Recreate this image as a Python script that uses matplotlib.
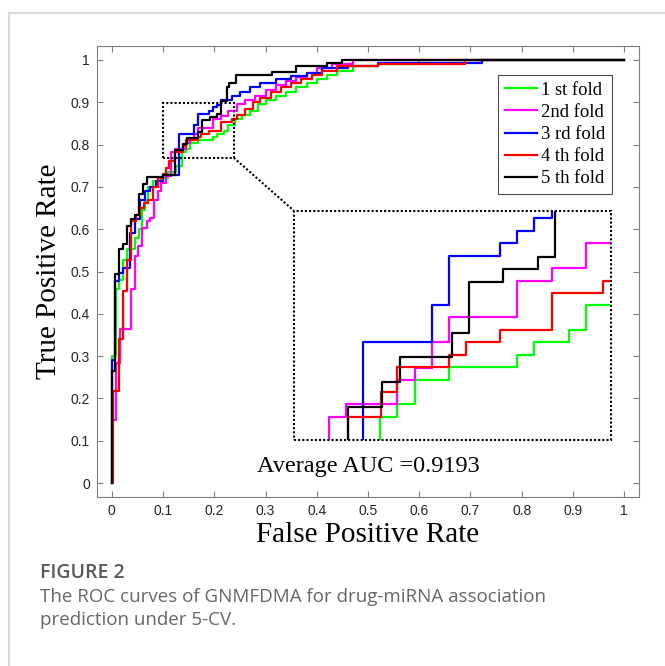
import numpy as np
import matplotlib
matplotlib.use("Agg")
import matplotlib.pyplot as plt
from matplotlib.patches import Rectangle
from matplotlib.lines import Line2D

# ROC 曲线数据（每个点：在该 FPR 处上升到的 TPR）
fold1_fpr = [0, 0, 0.009, 0.014, 0.022, 0.03, 0.045, 0.053, 0.058, 0.065, 0.07, 0.08, 0.095, 0.11, 0.125,
             0.1374, 0.145, 0.1527, 0.1676, 0.1972, 0.2046, 0.2194, 0.227, 0.24, 0.255, 0.27, 0.285, 0.30,
             0.32, 0.34, 0.36, 0.38, 0.40, 0.42, 0.44, 0.47, 0.52, 0.60, 1.0]
fold1_tpr = [0, 0.301, 0.459, 0.481, 0.528, 0.552, 0.58, 0.60, 0.646, 0.67, 0.70, 0.715, 0.72, 0.735, 0.75,
             0.7822, 0.7895, 0.8033, 0.8103, 0.8174, 0.8244, 0.8312, 0.8453, 0.86, 0.87, 0.88, 0.895, 0.905,
             0.915, 0.925, 0.935, 0.945, 0.955, 0.965, 0.975, 0.985, 0.99, 1.0, 1.0]

fold2_fpr = [0, 0, 0.009, 0.016, 0.0365, 0.045, 0.052, 0.058, 0.068, 0.074, 0.083, 0.09, 0.095, 0.105,
             0.1154, 0.1229, 0.145, 0.1527, 0.1602, 0.1676, 0.1972, 0.2122, 0.227, 0.245, 0.26, 0.28, 0.30,
             0.32, 0.34, 0.36, 0.38, 0.40, 0.43, 0.47, 1.0]
fold2_tpr = [0, 0.15, 0.284, 0.364, 0.459, 0.536, 0.56, 0.603, 0.619, 0.627, 0.67, 0.69, 0.71, 0.725,
             0.7822, 0.7895, 0.8033, 0.8099, 0.8244, 0.8387, 0.8594, 0.8664, 0.8805, 0.895, 0.905, 0.915, 0.93,
             0.94, 0.95, 0.96, 0.97, 0.98, 0.99, 1.0, 1.0]

fold3_fpr = [0, 0, 0.006, 0.014, 0.022, 0.035, 0.045, 0.055, 0.065, 0.075, 0.087, 0.10, 0.1302, 0.1602,
             0.1676, 0.1897, 0.1972, 0.2046, 0.2122, 0.235, 0.25, 0.27, 0.29, 0.32, 0.35, 0.38, 0.41, 0.46,
             0.52, 0.722, 1.0]
fold3_tpr = [0, 0.292, 0.477, 0.497, 0.509, 0.59, 0.624, 0.67, 0.69, 0.70, 0.715, 0.729, 0.8244, 0.8457,
             0.8734, 0.8805, 0.8877, 0.8947, 0.905, 0.915, 0.925, 0.935, 0.945, 0.955, 0.962, 0.97, 0.98, 0.985,
             0.992, 1.0, 1.0]

fold4_fpr = [0, 0.003, 0.014, 0.022, 0.03, 0.038, 0.048, 0.055, 0.062, 0.07, 0.08, 0.09, 0.10, 0.105, 0.112,
             0.1234, 0.1379, 0.145, 0.1676, 0.1747, 0.1897, 0.2122, 0.2344, 0.245, 0.26, 0.275, 0.29, 0.31,
             0.33, 0.35, 0.37, 0.39, 0.41, 0.44, 0.52, 0.69, 1.0]
fold4_tpr = [0, 0.218, 0.34, 0.454, 0.528, 0.619, 0.634, 0.65, 0.662, 0.67, 0.70, 0.72, 0.73, 0.745, 0.76,
             0.7822, 0.7961, 0.8103, 0.8174, 0.8244, 0.8312, 0.8523, 0.8594, 0.87, 0.885, 0.90, 0.91, 0.925,
             0.935, 0.945, 0.955, 0.965, 0.975, 0.985, 0.99, 1.0, 1.0]

fold5_fpr = [0, 0, 0.006, 0.014, 0.022, 0.029, 0.037, 0.045, 0.053, 0.061, 0.068, 0.10, 0.1234, 0.1385,
             0.1461, 0.1686, 0.1763, 0.1911, 0.2061, 0.2136, 0.224, 0.229, 0.242, 0.312, 0.36, 0.42, 0.45, 1.0]
fold5_tpr = [0, 0.265, 0.493, 0.554, 0.564, 0.608, 0.624, 0.634, 0.684, 0.708, 0.723, 0.729, 0.7878, 0.8018,
             0.8161, 0.830, 0.8585, 0.8658, 0.8726, 0.902, 0.937, 0.945, 0.965, 0.972, 0.985, 0.993, 1.0, 1.0]

fold_labels = ['1 st fold', '2nd fold', '3 rd fold', '4 th fold', '5 th fold']
fold_colors = ['#00ff00', '#ff00ff', '#0000ff', '#ff0000', '#000000']
folds = [(fold1_fpr, fold1_tpr), (fold2_fpr, fold2_tpr), (fold3_fpr, fold3_tpr),
         (fold4_fpr, fold4_tpr), (fold5_fpr, fold5_tpr)]

avg_auc = 0.9193
zoom_x = (0.1, 0.238)
zoom_y = (0.769, 0.899)
inset_box = [0.355, 0.101, 0.62, 0.543]

serif = 'Liberation Serif'
sans = 'Liberation Sans'
spine_c = '#7f7f7f'

fig = plt.figure(figsize=(6.65, 6.66), dpi=100)
ax = fig.add_axes([97 / 665, 1 - 497 / 666, 542 / 665, 451 / 666])

for (fpr, tpr), c, lab in zip(folds, fold_colors, fold_labels):
    ax.plot(fpr, tpr, drawstyle='steps-post', color=c, lw=1.6, label=lab)

ax.set_xlim(-0.029, 1.029)
ax.set_ylim(-0.033, 1.033)
ax.set_xticks(np.arange(0, 1.01, 0.1))
ax.set_yticks(np.arange(0, 1.01, 0.1))
ax.set_xticklabels(['0'] + [f'{v:.1f}' for v in np.arange(0.1, 0.95, 0.1)] + ['1'])
ax.set_yticklabels(['0'] + [f'{v:.1f}' for v in np.arange(0.1, 0.95, 0.1)] + ['1'])
ax.tick_params(direction='in', length=4, width=0.8, color=spine_c, top=True, right=True,
               labelsize=10, labelcolor='#262626', pad=5)
for lbl in ax.get_xticklabels() + ax.get_yticklabels():
    lbl.set_family(sans)
for s in ax.spines.values():
    s.set_color(spine_c)
    s.set_linewidth(0.8)

ax.set_xlabel('False Positive Rate', family=serif, fontsize=21, labelpad=3)
ax.set_ylabel('True Positive Rate', family=serif, fontsize=21, labelpad=6)

# 局部放大框
dot = (0, (1, 1))
ax.add_patch(Rectangle((zoom_x[0], zoom_y[0]), zoom_x[1] - zoom_x[0], zoom_y[1] - zoom_y[0],
                       fill=False, ec='black', lw=1.5, ls=dot, zorder=5))
ax.plot([zoom_x[1], inset_box[0]], [zoom_y[0], inset_box[1] + inset_box[3]],
        color='black', lw=1.5, ls=dot, zorder=5)

axin = ax.inset_axes(inset_box, transform=ax.transData)
for (fpr, tpr), c in zip(folds, fold_colors):
    axin.plot(fpr, tpr, drawstyle='steps-post', color=c, lw=1.6)
axin.set_xlim(*zoom_x)
axin.set_ylim(*zoom_y)
axin.set_xticks([])
axin.set_yticks([])
for s in axin.spines.values():
    s.set_visible(False)
axin.add_patch(Rectangle((0, 0), 1, 1, transform=axin.transAxes, fill=False, ec='black',
                         lw=1.5, ls=dot, clip_on=False, zorder=10))

ax.text(0.5, 0.04, f'Average AUC ={avg_auc}', transform=ax.transData, ha='center', va='center',
        family=serif, fontsize=17.5)

leg = ax.legend(loc='upper right', bbox_to_anchor=(612 / 665, 1 - 75 / 666),
                bbox_transform=fig.transFigure, borderaxespad=0, fancybox=False,
                prop={'family': serif, 'size': 13.4}, handlelength=1.7, handletextpad=0.25,
                labelspacing=0.28, borderpad=0.35, framealpha=1)
leg.get_frame().set_edgecolor('#4d4d4d')
leg.get_frame().set_linewidth(0.8)

# 外框与图注
border_c = '#d9d9d9'
fig.add_artist(Line2D([9 / 665, 1], [1 - 13 / 666, 1 - 13 / 666], color=border_c, lw=1.5))
fig.add_artist(Line2D([9 / 665, 9 / 665], [0, 1 - 13 / 666], color=border_c, lw=1.5))
fig.text(40 / 665, 1 - 573 / 666, 'FIGURE 2', family='Open Sans', fontsize=14, fontweight='semibold',
         color='#595959', va='center')
fig.text(40 / 665, 1 - 597 / 666, 'The ROC curves of GNMFDMA for drug-miRNA association',
         family='Open Sans', fontsize=13.5, color='#666666', va='center')
fig.text(40 / 665, 1 - 620 / 666, 'prediction under 5-CV.',
         family='Open Sans', fontsize=13.5, color='#666666', va='center')

fig.savefig('out.png', dpi=100)
